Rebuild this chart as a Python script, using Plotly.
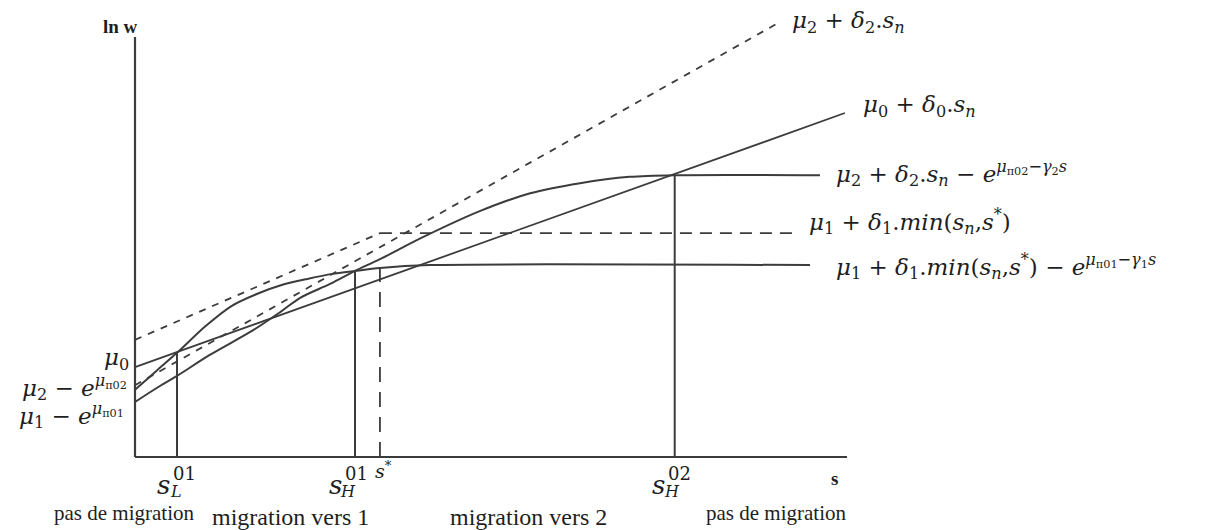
import numpy as np
import plotly.graph_objects as go

# ---- schematic coordinates: schooling s on the x axis, ln w on the y axis (both 0..10) ----
S_AXIS_MAX = 10.0
LNW_AXIS_MAX = 10.0

# thresholds on the schooling axis
s_L01 = 0.59
s_H01 = 3.09
s_star = 3.44
s_H02 = 7.58

# staying home: mu0 + delta0 * s
mu0_s = [0.0, 9.97]
mu0_w = [2.14, 8.19]

# region 2 gross wage: mu2 + delta2 * s (dashed)
mu2_s = [0.0, 9.06]
mu2_w = [1.71, 10.36]

# region 1 gross wage: mu1 + delta1 * min(s, s*) (dashed, flat beyond s*)
mu1_s = [0.0, s_star, 9.27]
mu1_w = [2.79, 5.33, 5.33]

# region 1 net of migration cost
net1_s = [0.0, 0.30, 0.59, 0.98, 1.36, 1.71, 2.07, 2.42, 2.77, 3.09, 3.44, 4.14, 9.48]
net1_w = [1.60, 2.05, 2.48, 3.10, 3.60, 3.88, 4.10, 4.24, 4.36, 4.43, 4.50, 4.57, 4.57]

# region 2 net of migration cost
net2_s = [0.0, 0.35, 0.59, 1.05, 1.66, 2.04, 2.32, 2.74, 3.09, 3.44, 4.05, 4.85,
          5.55, 6.25, 6.95, 7.58, 9.62]
net2_w = [1.31, 1.69, 1.93, 2.43, 3.02, 3.45, 3.79, 4.12, 4.43, 4.71, 5.24, 5.86,
          6.28, 6.52, 6.67, 6.71, 6.71]

# labels
LBL_MU2 = "<i>μ</i><sub>2</sub> + <i>δ</i><sub>2</sub>.<i>s<sub>n</sub></i>"
LBL_MU0 = "<i>μ</i><sub>0</sub> + <i>δ</i><sub>0</sub>.<i>s<sub>n</sub></i>"
LBL_NET2 = ("<i>μ</i><sub>2</sub> + <i>δ</i><sub>2</sub>.<i>s<sub>n</sub></i> − "
            "<i>e</i><sup><i>μ</i><sub>π02</sub>−<i>γ</i><sub>2</sub><i>s</i></sup>")
LBL_MU1 = "<i>μ</i><sub>1</sub> + <i>δ</i><sub>1</sub>.<i>min</i>(<i>s<sub>n</sub></i>,<i>s</i><sup>*</sup>)"
LBL_NET1 = LBL_MU1 + (" − <i>e</i><sup><i>μ</i><sub>π01</sub>−<i>γ</i><sub>1</sub><i>s</i></sup>")
LBL_INT0 = "<i>μ</i><sub>0</sub>"
LBL_INT2 = "<i>μ</i><sub>2</sub> − <i>e</i><sup><i>μ</i><sub>π02</sub></sup>"
LBL_INT1 = "<i>μ</i><sub>1</sub> − <i>e</i><sup><i>μ</i><sub>π01</sub></sup>"
REGIONS = ["pas de migration", "migration vers 1", "migration vers 2", "pas de migration"]
REGION_X = [-0.15, 2.18, 5.52, 9.00]

INK = "#3c3c3c"
TXT = "#1e1e1e"
MATH_FONT = "DejaVu Serif"
TEXT_FONT = "Liberation Serif"

fig = go.Figure()


def add_line(xs, ys, dash="solid", width=2.0):
    fig.add_trace(go.Scatter(x=xs, y=ys, mode="lines",
                             line=dict(color=INK, width=width, dash=dash),
                             hoverinfo="skip"))


# axes
add_line([0, S_AXIS_MAX], [0, 0], width=2.2)
add_line([0, 0], [0, LNW_AXIS_MAX], width=2.2)

# wage lines
add_line(mu0_s, mu0_w, width=1.8)
add_line(mu2_s, mu2_w, dash="7px,7px", width=1.8)
add_line(mu1_s[:2], mu1_w[:2], dash="7px,7px", width=1.8)
add_line(mu1_s[1:], mu1_w[1:], dash="12px,8px", width=1.8)

# net-of-cost curves
fig.add_trace(go.Scatter(x=net1_s, y=net1_w, mode="lines",
                         line=dict(color=INK, width=2.0, shape="spline", smoothing=0.7),
                         hoverinfo="skip"))
fig.add_trace(go.Scatter(x=net2_s, y=net2_w, mode="lines",
                         line=dict(color=INK, width=2.0, shape="spline", smoothing=0.9),
                         hoverinfo="skip"))

# threshold drop lines
top_L01 = float(np.interp(s_L01, net1_s, net1_w))
top_H01 = float(np.interp(s_H01, net1_s, net1_w))
top_star = float(np.interp(s_star, net1_s, net1_w))
top_H02 = float(np.interp(s_H02, net2_s, net2_w))
add_line([s_L01, s_L01], [0, top_L01], width=2.0)
add_line([s_H01, s_H01], [0, top_H01], width=2.0)
add_line([s_H02, s_H02], [0, top_H02], width=2.0)
add_line([s_star, s_star], [0, top_star], dash="15px,10px", width=1.8)

ann = []


def label(text, x, y, size, xanchor="left", xshift=0, yshift=0, family=MATH_FONT, color=TXT):
    ann.append(dict(text=text, x=x, y=y, xref="x", yref="y", showarrow=False,
                    xanchor=xanchor, yanchor="middle", xshift=xshift, yshift=yshift,
                    font=dict(family=family, size=size, color=color)))


# curve labels at the right-hand ends
label(LBL_MU2, mu2_s[-1], mu2_w[-1], 23, xshift=10, yshift=0)
label(LBL_MU0, mu0_s[-1], mu0_w[-1], 23, xshift=16, yshift=7)
label(LBL_NET2, net2_s[-1], net2_w[-1], 23, xshift=14, yshift=2)
label(LBL_MU1, mu1_s[-1], mu1_w[-1], 23, xshift=12, yshift=12)
label(LBL_NET1, net1_s[-1], net1_w[-1], 23, xshift=24, yshift=-1)

# intercept labels on the vertical axis
label(LBL_INT0, 0, mu0_w[0], 23, xanchor="right", xshift=-4, yshift=8)
label(LBL_INT2, 0, net2_w[0], 23, xanchor="right", xshift=-6, yshift=14)
label(LBL_INT1, 0, net1_w[0], 23, xanchor="right", xshift=-9, yshift=-26)

# thresholds under the horizontal axis: s with stacked sub/superscripts
for sx, sub, sup, dx in [(s_L01, "L", "01", -14), (s_H01, "H", "01", -20), (s_H02, "H", "02", -16)]:
    label("<i>s</i>", sx, 0, 26, xanchor="center", xshift=dx, yshift=-28)
    label(sup, sx, 0, 18, xanchor="center", xshift=dx + 21, yshift=-16)
    label("<i>" + sub + "</i>", sx, 0, 16, xanchor="center", xshift=dx + 13, yshift=-34)
label("<i>s</i><sup>*</sup>", s_star, 0, 19, xanchor="center", xshift=4, yshift=-13)

# axis titles
label("<b>s</b>", S_AXIS_MAX, 0, 19, xanchor="center", xshift=-13, yshift=-21, family=TEXT_FONT)
label("<b>ln w</b>", 0, LNW_AXIS_MAX, 19, xanchor="center", xshift=-15, yshift=11, family=TEXT_FONT)

# regions along the schooling axis
for txt, rx in zip(REGIONS, REGION_X):
    is_none = txt.startswith("pas")
    label(txt, rx, -1.34 if is_none else -1.43, 21 if is_none else 24,
          xanchor="center", family=TEXT_FONT)

fig.update_layout(
    width=1210, height=530, autosize=False,
    margin=dict(l=0, r=0, t=0, b=0),
    paper_bgcolor="white", plot_bgcolor="white",
    showlegend=False,
    xaxis=dict(range=[-1.896, 15.098], visible=False, fixedrange=True),
    yaxis=dict(range=[-1.738, 10.881], visible=False, fixedrange=True),
    annotations=ann,
)

fig.write_html("out.html")
